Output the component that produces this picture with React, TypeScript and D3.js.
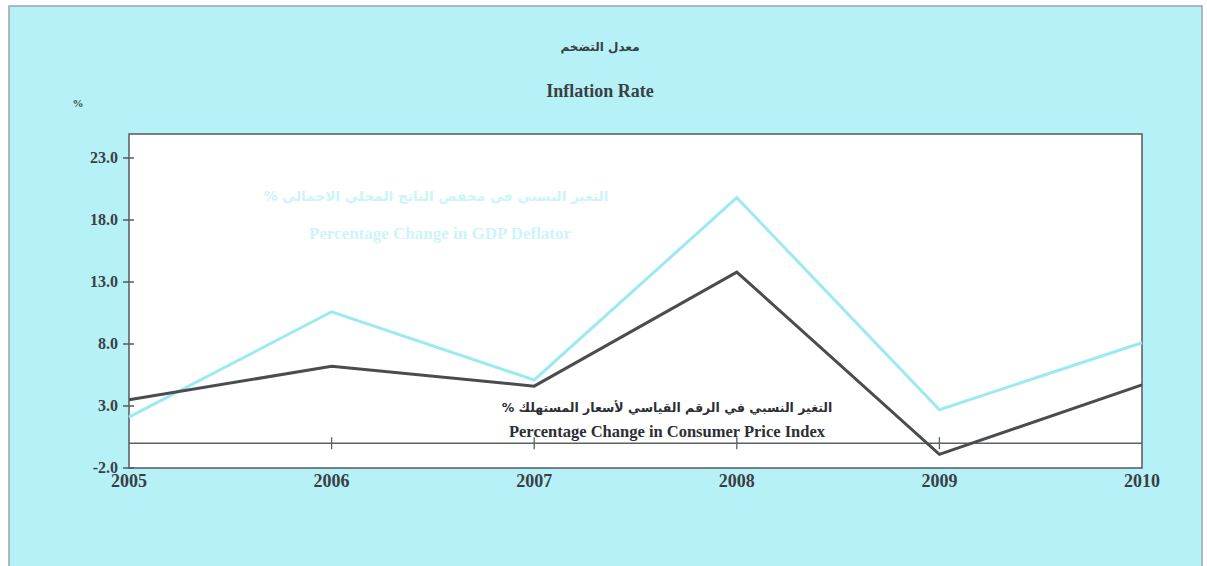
import React from "react";
import * as d3 from "d3";

const years = ["2005", "2006", "2007", "2008", "2009", "2010"];
const gdpDeflator = [2.1, 10.6, 5.1, 19.8, 2.7, 8.1];
const cpi = [3.5, 6.2, 4.6, 13.8, -0.9, 4.7];
const yTicks = [-2, 3, 8, 13, 18, 23];

const titleAr = "معدل التضخم";
const titleEn = "Inflation Rate";
const unitLabel = "%";
const gdpLabelAr = "التغير النسبي في مخفض الناتج المحلي الاجمالي %";
const gdpLabelEn = "Percentage Change in GDP Deflator";
const cpiLabelAr = "التغير النسبي في الرقم القياسي لأسعار المستهلك %";
const cpiLabelEn = "Percentage Change in Consumer Price Index";

const W = 1207;
const H = 566;
const box = { left: 129, right: 1142, top: 134, bottom: 468 };

const serif = "'Liberation Serif', 'DejaVu Serif', serif";
const arabic = "'DejaVu Sans', 'Noto Sans', sans-serif";

export default function App() {
  const x = d3.scalePoint<string>().domain(years).range([box.left, box.right]);
  const y = d3.scaleLinear().domain([-2, 23]).range([box.bottom, box.top + 24]);
  const line = d3
    .line<number>()
    .x((_, i) => x(years[i]) as number)
    .y((d) => y(d));

  const textColor = "#3a3f44";

  return (
    <svg
      width={W}
      height={H}
      style={{ position: "absolute", left: 0, top: 0, background: "#ffffff" }}
    >
      <rect x={9} y={6} width={1193} height={580} fill="#b7f1f8" stroke="#9aa4a8" strokeWidth={1.5} />

      <text x={600} y={51} textAnchor="middle" fontFamily={arabic} fontSize={12} fontWeight="bold" fill={textColor} direction="rtl">
        {titleAr}
      </text>
      <text x={600} y={97} textAnchor="middle" fontFamily={serif} fontSize={18} fontWeight="bold" fill={textColor}>
        {titleEn}
      </text>
      <text x={78} y={107} textAnchor="middle" fontFamily={serif} fontSize={11} fontWeight="bold" fill={textColor}>
        {unitLabel}
      </text>

      <rect
        x={box.left}
        y={box.top}
        width={box.right - box.left}
        height={box.bottom - box.top}
        fill="#ffffff"
        stroke="#555a5e"
        strokeWidth={1.5}
      />

      {yTicks.map((t) => (
        <g key={t}>
          <line x1={box.left - 6} x2={box.left + 5} y1={y(t)} y2={y(t)} stroke="#555a5e" strokeWidth={1.5} />
          <text
            x={box.left - 11}
            y={y(t) + 5}
            textAnchor="end"
            fontFamily={serif}
            fontSize={16}
            fontWeight="bold"
            fill={textColor}
          >
            {t.toFixed(1)}
          </text>
        </g>
      ))}

      <line x1={box.left} x2={box.right} y1={y(0)} y2={y(0)} stroke="#5c6165" strokeWidth={1.6} />
      {years.slice(1, 5).map((yr) => (
        <line key={yr} x1={x(yr)} x2={x(yr)} y1={y(0) - 6} y2={y(0) + 6} stroke="#5c6165" strokeWidth={1.3} />
      ))}

      {years.map((yr) => (
        <text
          key={yr}
          x={x(yr)}
          y={487}
          textAnchor="middle"
          fontFamily={serif}
          fontSize={18}
          fontWeight="bold"
          fill={textColor}
        >
          {yr}
        </text>
      ))}

      <path d={line(gdpDeflator) || ""} fill="none" stroke="#9ceaf0" strokeWidth={3} strokeLinejoin="miter" />
      <path d={line(cpi) || ""} fill="none" stroke="#4a4c50" strokeWidth={3} strokeLinejoin="miter" />

      <text x={436} y={201} textAnchor="middle" fontFamily={arabic} fontSize={13.7} fontWeight="bold" fill="#cdf5f8" direction="rtl">
        {gdpLabelAr}
      </text>
      <text x={440} y={239} textAnchor="middle" fontFamily={serif} fontSize={17} fontWeight="bold" fill="#cdf5f8">
        {gdpLabelEn}
      </text>

      <text x={667} y={412} textAnchor="middle" fontFamily={arabic} fontSize={12.5} fontWeight="bold" fill="#2c2f33" direction="rtl">
        {cpiLabelAr}
      </text>
      <text x={667} y={437} textAnchor="middle" fontFamily={serif} fontSize={16.5} fontWeight="bold" fill="#2c2f33">
        {cpiLabelEn}
      </text>
    </svg>
  );
}
